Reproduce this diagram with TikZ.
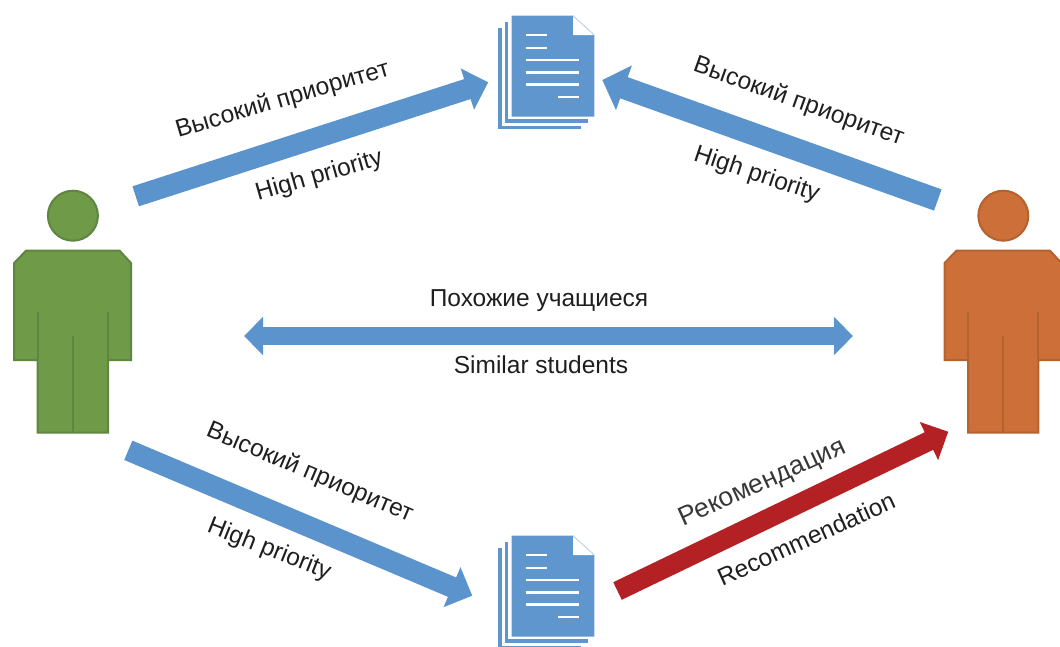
\documentclass[tikz,border=0pt]{standalone}
\usepackage{fontspec}
\setmainfont{Liberation Sans}
\usetikzlibrary{arrows.meta}

\definecolor{docblue}{HTML}{5F96CE}
\definecolor{foldedge}{HTML}{C5D3E2}
\definecolor{arrowblue}{HTML}{5B94CD}
\definecolor{arrowred}{HTML}{B32125}
\definecolor{greenfill}{HTML}{6F9A48}
\definecolor{greenedge}{HTML}{5F8540}
\definecolor{orangefill}{HTML}{CC6F38}
\definecolor{orangeedge}{HTML}{B4622F}

\tikzset{
	lbl/.style={font=\fontsize{24.5}{28}\selectfont,text=black!88,inner sep=0pt,anchor=base},
	lblbig/.style={lbl,font=\fontsize{26.5}{30}\selectfont,text=black!78},
	blockarrow/.style={line width=21pt,draw=arrowblue,-{Triangle[length=22pt,width=42pt]}},
	widearrow/.style={line width=22.5pt,draw=arrowblue,-{Triangle[length=23pt,width=46pt]}},
	redarrow/.style={line width=19.5pt,draw=arrowred,-{Triangle[length=21.5pt,width=41pt]}},
	twoway/.style={line width=18pt,draw=arrowblue,{Triangle[length=19pt,width=37pt]}-{Triangle[length=19pt,width=37pt]}},
	docline/.style={draw=white,line width=2.4pt}
}

% figure of a person, #1 x shift, #2 fill, #3 edge
\newcommand{\personfig}[3]{
	\begin{scope}[shift={(#1,0)},draw=#3,line width=2pt]
		\filldraw[fill=#2] (72.9,215.7) circle (25);
		\filldraw[fill=#2] (26,250.7) -- (119.6,250.7) -- (131,263) -- (131,360) -- (108,360)
			-- (108,432.5) -- (37.7,432.5) -- (37.7,360) -- (14.2,360) -- (14.2,263) -- cycle;
		\draw (37.7,311.7) -- (37.7,360);
		\draw (108,311.7) -- (108,360);
		\draw (72.8,335.7) -- (72.8,432.5);
	\end{scope}
}

% stack of three pages, #1 y shift
\newcommand{\docfig}[1]{
	\begin{scope}[shift={(0,#1)}]
		\draw[docblue,line width=3.4pt] (500,28) -- (500,127.5) -- (581,127.5);
		\draw[docblue,line width=3.4pt] (506.5,22) -- (506.5,121) -- (588,121);
		\fill[docblue] (511.7,15.7) -- (573,15.7) -- (594.3,35) -- (594.3,116.7) -- (511.7,116.7) -- cycle;
		\fill[white] (573,15.7) -- (594.3,35) -- (573,35) -- cycle;
		\draw[foldedge,line width=1pt] (573,15.7) -- (594.3,35);
		\draw[docline] (526,35) -- (547.3,35);
		\draw[docline] (526,47.7) -- (547.3,47.7);
		\draw[docline] (526,60) -- (579.3,60);
		\draw[docline] (526,72.3) -- (579.3,72.3);
		\draw[docline] (526,84.3) -- (579.3,84.3);
		\draw[docline] (558,96.7) -- (579.3,96.7);
	\end{scope}
}

\begin{document}
\begin{tikzpicture}[x=1pt,y=-1pt]
	\useasboundingbox (0,0) rectangle (1060,646);

	\personfig{0}{greenfill}{greenedge}
	\personfig{930.4}{orangefill}{orangeedge}
	\docfig{0}
	\docfig{520}

	\coordinate (greentop) at (135.7,196.3);
	\coordinate (doctopleft) at (488.3,82.3);
	\coordinate (orangetop) at (937.8,200);
	\coordinate (doctopright) at (602.3,80);
	\coordinate (greenbottom) at (128.3,450.3);
	\coordinate (docbottomleft) at (472.3,595.7);
	\coordinate (docbottomright) at (617.5,591);
	\coordinate (orangebottom) at (948.3,431.7);
	\coordinate (simleft) at (244,336);
	\coordinate (simright) at (853,336);

	\draw[blockarrow] (greentop) -- (doctopleft);
	\draw[widearrow] (orangetop) -- (doctopright);
	\draw[blockarrow] (greenbottom) -- (docbottomleft);
	\draw[redarrow] (docbottomright) -- (orangebottom);
	\draw[twoway] (simleft) -- (simright);

	\node[lbl,rotate=16.4] (prioa) at (284.5,106.5) {Высокий приоритет};
	\node[lbl,rotate=16] (higha) at (321,182.5) {High priority};
	\node[lbl,rotate=-19.7] (priob) at (796.3,108.3) {Высокий приоритет};
	\node[lbl,rotate=-18.5] (highb) at (754.5,181) {High priority};
	\node[lbl] (simru) at (539,306) {Похожие учащиеся};
	\node[lbl] (simen) at (541,373) {Similar students};
	\node[lbl,rotate=-22.9] (prioc) at (307.2,479) {Высокий приоритет};
	\node[lbl,rotate=-21.8] (highc) at (266.7,555.8) {High priority};
	\node[lblbig,rotate=24.5] (recru) at (765.5,489.5) {Рекомендация};
	\node[lbl,rotate=24.4] (recen) at (809.7,546.7) {Recommendation};
\end{tikzpicture}
\end{document}
